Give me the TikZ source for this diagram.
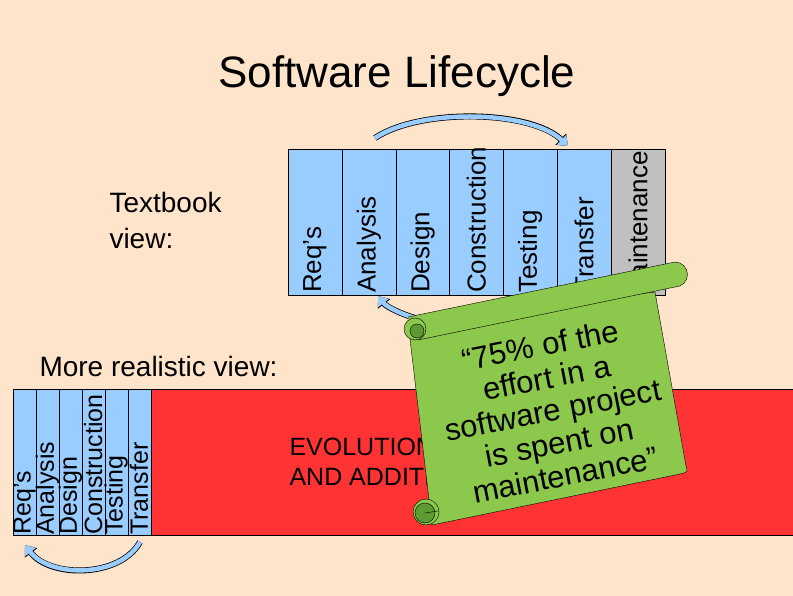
\documentclass[tikz,border=0pt]{standalone}
\usepackage{fontspec}
\setmainfont{Liberation Sans}
\usetikzlibrary{arrows.meta}
\definecolor{bg}{HTML}{FFE4CC}
\definecolor{pblue}{HTML}{99CCFF}
\definecolor{pred}{HTML}{FF3333}
\definecolor{pgreen}{HTML}{8CC84B}
\definecolor{dgreen}{HTML}{5E9A32}
\definecolor{pgray}{HTML}{C0C0C0}
\begin{document}
\begin{tikzpicture}[x=1pt,y=-1pt,
  phase/.style={draw=black,fill=pblue,minimum width=54pt,minimum height=146pt,anchor=north west,inner sep=0pt},
  phasetxt/.style={rotate=90,font=\fontsize{26}{26}\selectfont,inner sep=1pt},
  smallphase/.style={draw=black,fill=pblue,minimum width=23pt,minimum height=146pt,anchor=north west,inner sep=0pt},
  smalltxt/.style={rotate=90,font=\fontsize{25}{19}\selectfont,inner sep=0pt},
  loop/.style={line width=4.5pt,pblue,-{Triangle[width=13pt,length=9pt]},preaction={draw=black,line width=6pt,-{Triangle[width=15pt,length=10pt]}}},
  lbl/.style={anchor=west,font=\fontsize{28}{36}\selectfont,align=left}]
\fill[bg] (0,0) rectangle (793,596);
\useasboundingbox (0,0) rectangle (793,596);
\node[font=\fontsize{44}{44}\selectfont] (title) at (397,76) {Software Lifecycle};
\node[lbl] (tb) at (106,220) {Textbook\\view:};
% top phases
\foreach \i/\t in {0/Req's,1/Analysis,2/Design,3/Construction,4/Testing,5/Transfer}{
  \node[phase] (p\i) at (288+\i*53.8,149) {};
  \node[phasetxt,anchor=west] (pt\i) at (288+\i*53.8+27,294) {\t};
}
\node[phase,fill=pgray] (p6) at (611,149) {};
\begin{scope}
\clip (611,149) rectangle (665,295);
\node[phasetxt,anchor=east] (pt6) at (638,150) {Maintenance};
\end{scope}
\draw[loop] (375,138) .. controls (420,108) and (530,110) .. (568,146);
\draw[loop] (415,318) .. controls (395,312) and (385,305) .. (378,296);
% lower
\node[lbl] (mr) at (36,366) {More realistic view:};
\fill[pred,draw=black] (150,389) rectangle (793,535);
\foreach \i/\t in {0/Req's,1/Analysis,2/Design,3/Construction,4/Testing,5/Transfer}{
  \node[smallphase] (s\i) at (13+\i*22.9,389) {};
  \node[smalltxt,anchor=west] (st\i) at (13+\i*22.9+11.5,535) {\t};
}
\draw[loop] (140,542) .. controls (120,578) and (50,578) .. (25,545);
\node[lbl,font=\fontsize{25}{30}\selectfont] (evo) at (286,462) {EVOLUTION\\AND ADDITIONS};
% scroll body
\fill[pgreen,draw=black] (408,322) -- (655,292) -- (686,466) .. controls (688,472) .. (680,474) -- (432,525) -- cycle;
% top roll
\fill[pgreen] (408,317) -- (675,262) -- (675,287) -- (418,340) -- cycle;
\fill[pgreen] (675,274.5) circle (12.5);
\draw (408,317) -- (675,262) arc (-90:90:12.5) -- (418,340);
\fill[pgreen,draw=black] (415,329) circle (11);
\fill[dgreen,draw=black] (417,331) circle (7);
% bottom curl
\fill[pgreen,draw=black] (426,512) circle (13);
\fill[dgreen,draw=black] (425,513) circle (10);
\draw (425,513) -- (438,511);
\node[rotate=11,font=\fontsize{31}{33}\selectfont,align=center] (quote) at (553,410)
 {``75\% of the\\effort in a\\software project\\is spent on\\maintenance''};
\end{tikzpicture}
\end{document}
